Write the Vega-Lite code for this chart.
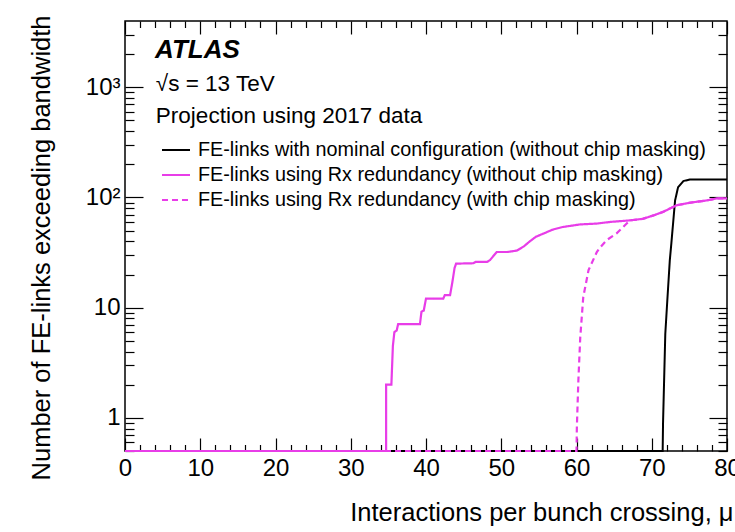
{
  "$schema": "https://vega.github.io/schema/vega-lite/v6.json",
  "width": 602,
  "height": 430,
  "autosize": "none",
  "padding": {"left": 125, "top": 21, "right": 8, "bottom": 81},
  "background": "white",
  "config": {
    "font": "Liberation Sans",
    "view": {"stroke": "black", "strokeWidth": 1.5},
    "axis": {"domain": false, "grid": false, "tickColor": "black", "tickWidth": 1.2, "labelColor": "black", "titleColor": "black", "titleFontWeight": "normal", "labelFlush": false, "labelOverlap": false}
  },
  "datasets": {
    "curves": [
      {"series": "FE-links with nominal configuration (without chip masking)", "i": 1, "mu": 0, "n": 0.5},
      {"series": "FE-links with nominal configuration (without chip masking)", "i": 2, "mu": 71.45, "n": 0.5},
      {"series": "FE-links with nominal configuration (without chip masking)", "i": 3, "mu": 71.5, "n": 0.9},
      {"series": "FE-links with nominal configuration (without chip masking)", "i": 4, "mu": 71.8, "n": 5.8},
      {"series": "FE-links with nominal configuration (without chip masking)", "i": 5, "mu": 72.07, "n": 11.7},
      {"series": "FE-links with nominal configuration (without chip masking)", "i": 6, "mu": 72.4, "n": 27},
      {"series": "FE-links with nominal configuration (without chip masking)", "i": 7, "mu": 72.6, "n": 38},
      {"series": "FE-links with nominal configuration (without chip masking)", "i": 8, "mu": 73.1, "n": 94},
      {"series": "FE-links with nominal configuration (without chip masking)", "i": 9, "mu": 73.5, "n": 124},
      {"series": "FE-links with nominal configuration (without chip masking)", "i": 10, "mu": 74.2, "n": 141},
      {"series": "FE-links with nominal configuration (without chip masking)", "i": 11, "mu": 75.1, "n": 146},
      {"series": "FE-links with nominal configuration (without chip masking)", "i": 12, "mu": 80, "n": 146},

      {"series": "FE-links using Rx redundancy (without chip masking)", "i": 1, "mu": 0, "n": 0.5},
      {"series": "FE-links using Rx redundancy (without chip masking)", "i": 2, "mu": 34.7, "n": 0.5},
      {"series": "FE-links using Rx redundancy (without chip masking)", "i": 3, "mu": 34.7, "n": 2.0},
      {"series": "FE-links using Rx redundancy (without chip masking)", "i": 4, "mu": 35.4, "n": 2.0},
      {"series": "FE-links using Rx redundancy (without chip masking)", "i": 5, "mu": 35.6, "n": 4.5},
      {"series": "FE-links using Rx redundancy (without chip masking)", "i": 6, "mu": 35.8, "n": 6.0},
      {"series": "FE-links using Rx redundancy (without chip masking)", "i": 7, "mu": 36.1, "n": 6.2},
      {"series": "FE-links using Rx redundancy (without chip masking)", "i": 8, "mu": 36.3, "n": 7.1},
      {"series": "FE-links using Rx redundancy (without chip masking)", "i": 9, "mu": 39.2, "n": 7.1},
      {"series": "FE-links using Rx redundancy (without chip masking)", "i": 10, "mu": 39.4, "n": 9.2},
      {"series": "FE-links using Rx redundancy (without chip masking)", "i": 11, "mu": 39.7, "n": 9.4},
      {"series": "FE-links using Rx redundancy (without chip masking)", "i": 12, "mu": 40.0, "n": 12.1},
      {"series": "FE-links using Rx redundancy (without chip masking)", "i": 13, "mu": 42.3, "n": 12.1},
      {"series": "FE-links using Rx redundancy (without chip masking)", "i": 14, "mu": 42.5, "n": 13},
      {"series": "FE-links using Rx redundancy (without chip masking)", "i": 15, "mu": 43.2, "n": 13},
      {"series": "FE-links using Rx redundancy (without chip masking)", "i": 16, "mu": 43.5, "n": 17},
      {"series": "FE-links using Rx redundancy (without chip masking)", "i": 17, "mu": 43.8, "n": 23},
      {"series": "FE-links using Rx redundancy (without chip masking)", "i": 18, "mu": 44.0, "n": 25.1},
      {"series": "FE-links using Rx redundancy (without chip masking)", "i": 19, "mu": 46.3, "n": 25.3},
      {"series": "FE-links using Rx redundancy (without chip masking)", "i": 20, "mu": 46.6, "n": 26},
      {"series": "FE-links using Rx redundancy (without chip masking)", "i": 21, "mu": 48.1, "n": 26},
      {"series": "FE-links using Rx redundancy (without chip masking)", "i": 22, "mu": 48.5, "n": 27},
      {"series": "FE-links using Rx redundancy (without chip masking)", "i": 23, "mu": 49.4, "n": 32},
      {"series": "FE-links using Rx redundancy (without chip masking)", "i": 24, "mu": 50.8, "n": 32},
      {"series": "FE-links using Rx redundancy (without chip masking)", "i": 25, "mu": 52.1, "n": 33},
      {"series": "FE-links using Rx redundancy (without chip masking)", "i": 26, "mu": 53.0, "n": 36},
      {"series": "FE-links using Rx redundancy (without chip masking)", "i": 27, "mu": 53.8, "n": 40},
      {"series": "FE-links using Rx redundancy (without chip masking)", "i": 28, "mu": 54.6, "n": 44},
      {"series": "FE-links using Rx redundancy (without chip masking)", "i": 29, "mu": 55.6, "n": 47},
      {"series": "FE-links using Rx redundancy (without chip masking)", "i": 30, "mu": 56.8, "n": 51},
      {"series": "FE-links using Rx redundancy (without chip masking)", "i": 31, "mu": 58.2, "n": 54},
      {"series": "FE-links using Rx redundancy (without chip masking)", "i": 32, "mu": 60.5, "n": 57},
      {"series": "FE-links using Rx redundancy (without chip masking)", "i": 33, "mu": 62.7, "n": 58},
      {"series": "FE-links using Rx redundancy (without chip masking)", "i": 34, "mu": 64.5, "n": 60},
      {"series": "FE-links using Rx redundancy (without chip masking)", "i": 35, "mu": 67.1, "n": 62},
      {"series": "FE-links using Rx redundancy (without chip masking)", "i": 36, "mu": 68.8, "n": 64},
      {"series": "FE-links using Rx redundancy (without chip masking)", "i": 37, "mu": 70.3, "n": 69},
      {"series": "FE-links using Rx redundancy (without chip masking)", "i": 38, "mu": 71.5, "n": 74},
      {"series": "FE-links using Rx redundancy (without chip masking)", "i": 39, "mu": 73.3, "n": 85},
      {"series": "FE-links using Rx redundancy (without chip masking)", "i": 40, "mu": 75.2, "n": 90},
      {"series": "FE-links using Rx redundancy (without chip masking)", "i": 41, "mu": 77.3, "n": 94},
      {"series": "FE-links using Rx redundancy (without chip masking)", "i": 42, "mu": 78.6, "n": 98},
      {"series": "FE-links using Rx redundancy (without chip masking)", "i": 43, "mu": 80, "n": 98},

      {"series": "FE-links using Rx redundancy (with chip masking)", "i": 1, "mu": 0, "n": 0.5},
      {"series": "FE-links using Rx redundancy (with chip masking)", "i": 2, "mu": 60.0, "n": 0.5},
      {"series": "FE-links using Rx redundancy (with chip masking)", "i": 3, "mu": 60.05, "n": 0.83},
      {"series": "FE-links using Rx redundancy (with chip masking)", "i": 4, "mu": 60.25, "n": 2.2},
      {"series": "FE-links using Rx redundancy (with chip masking)", "i": 5, "mu": 60.5, "n": 5.4},
      {"series": "FE-links using Rx redundancy (with chip masking)", "i": 6, "mu": 60.9, "n": 12.5},
      {"series": "FE-links using Rx redundancy (with chip masking)", "i": 7, "mu": 61.6, "n": 21.9},
      {"series": "FE-links using Rx redundancy (with chip masking)", "i": 8, "mu": 62.7, "n": 32},
      {"series": "FE-links using Rx redundancy (with chip masking)", "i": 9, "mu": 63.1, "n": 35},
      {"series": "FE-links using Rx redundancy (with chip masking)", "i": 10, "mu": 64.0, "n": 41},
      {"series": "FE-links using Rx redundancy (with chip masking)", "i": 11, "mu": 65.3, "n": 47},
      {"series": "FE-links using Rx redundancy (with chip masking)", "i": 12, "mu": 66.2, "n": 54},
      {"series": "FE-links using Rx redundancy (with chip masking)", "i": 13, "mu": 67.1, "n": 62},
      {"series": "FE-links using Rx redundancy (with chip masking)", "i": 14, "mu": 68.8, "n": 64},
      {"series": "FE-links using Rx redundancy (with chip masking)", "i": 15, "mu": 70.3, "n": 69},
      {"series": "FE-links using Rx redundancy (with chip masking)", "i": 16, "mu": 71.5, "n": 74},
      {"series": "FE-links using Rx redundancy (with chip masking)", "i": 17, "mu": 73.3, "n": 85},
      {"series": "FE-links using Rx redundancy (with chip masking)", "i": 18, "mu": 75.2, "n": 90},
      {"series": "FE-links using Rx redundancy (with chip masking)", "i": 19, "mu": 77.3, "n": 94},
      {"series": "FE-links using Rx redundancy (with chip masking)", "i": 20, "mu": 78.6, "n": 98},
      {"series": "FE-links using Rx redundancy (with chip masking)", "i": 21, "mu": 80, "n": 98}
    ],
    "notes": [
      {"kind": "atlas", "text": "ATLAS", "mu": 4.0, "n": 1832},
      {"kind": "plain", "text": "√s = 13 TeV", "mu": 4.1, "n": 920},
      {"kind": "plain", "text": "Projection using 2017 data", "mu": 4.1, "n": 470}
    ]
  },
  "resolve": {"axis": {"x": "independent", "y": "independent"}},
  "layer": [
    {
      "data": {"name": "curves"},
      "transform": [{"filter": "datum.series === 'FE-links with nominal configuration (without chip masking)'"}],
      "mark": {"type": "line", "strokeWidth": 2, "clip": false},
      "encoding": {
        "x": {"field": "mu", "type": "quantitative", "scale": {"domain": [0, 80], "nice": false, "zero": false},
          "axis": {"orient": "bottom", "values": [0, 10, 20, 30, 40, 50, 60, 70, 80], "tickSize": -13, "labelFontSize": 24, "labelPadding": 18,
            "title": "Interactions per bunch crossing, μ", "titleFontSize": 25.5, "titleAnchor": "end", "titleAlign": "right", "titleX": 608, "titleY": 69, "titleBaseline": "alphabetic"}},
        "y": {"field": "n", "type": "quantitative", "scale": {"type": "log", "domain": [0.5, 4000], "nice": false},
          "axis": {"orient": "left", "values": [1, 10, 100, 1000], "labelExpr": "datum.value == 1 ? '1' : datum.value == 10 ? '10' : datum.value == 100 ? '10²' : '10³'",
            "tickSize": -18, "labelFontSize": 24, "labelPadding": 23,
            "title": "Number of FE-links exceeding bandwidth", "titleFontSize": 25.5, "titleAngle": -90, "titleAlign": "right", "titleBaseline": "middle", "titleX": -84, "titleY": -6}},
        "order": {"field": "i", "type": "quantitative"},
        "color": {"field": "series", "type": "nominal",
          "scale": {"domain": ["FE-links with nominal configuration (without chip masking)", "FE-links using Rx redundancy (without chip masking)", "FE-links using Rx redundancy (with chip masking)"], "range": ["#000000", "#e83de8", "#e83de8"]},
          "legend": {"orient": "none", "legendX": 36, "legendY": 114, "title": null, "padding": 0, "symbolType": "stroke", "symbolSize": 784, "symbolStrokeWidth": 2, "labelFontSize": 19.8, "labelLimit": 700, "labelOffset": 7, "rowPadding": 0, "labelColor": "black"}},
        "strokeDash": {"field": "series", "type": "nominal",
          "scale": {"domain": ["FE-links with nominal configuration (without chip masking)", "FE-links using Rx redundancy (without chip masking)", "FE-links using Rx redundancy (with chip masking)"], "range": [[1, 0], [1, 0], [6, 4]]},
          "legend": {"orient": "none", "legendX": 36, "legendY": 114, "title": null, "padding": 0, "symbolType": "stroke", "symbolSize": 784, "symbolStrokeWidth": 2, "labelFontSize": 19.8, "labelLimit": 700, "labelOffset": 7, "rowPadding": 0, "labelColor": "black"}}
      }
    },
    {
      "data": {"name": "curves"},
      "transform": [{"filter": "datum.series === 'FE-links using Rx redundancy (with chip masking)'"}],
      "mark": {"type": "line", "strokeWidth": 2.2, "clip": false},
      "encoding": {
        "x": {"field": "mu", "type": "quantitative", "scale": {"domain": [0, 80], "nice": false, "zero": false},
          "axis": {"orient": "bottom", "values": [2, 4, 6, 8, 12, 14, 16, 18, 22, 24, 26, 28, 32, 34, 36, 38, 42, 44, 46, 48, 52, 54, 56, 58, 62, 64, 66, 68, 72, 74, 76, 78], "tickSize": -6.5, "labels": false, "title": null}},
        "y": {"field": "n", "type": "quantitative", "scale": {"type": "log", "domain": [0.5, 4000], "nice": false},
          "axis": {"orient": "left", "values": [0.5, 0.6, 0.7, 0.8, 0.9, 2, 3, 4, 5, 6, 7, 8, 9, 20, 30, 40, 50, 60, 70, 80, 90, 200, 300, 400, 500, 600, 700, 800, 900, 2000, 3000], "tickSize": -9, "labels": false, "title": null}},
        "order": {"field": "i", "type": "quantitative"},
        "color": {"field": "series", "type": "nominal"},
        "strokeDash": {"field": "series", "type": "nominal"}
      }
    },
    {
      "data": {"name": "curves"},
      "transform": [{"filter": "datum.series === 'FE-links using Rx redundancy (without chip masking)'"}],
      "mark": {"type": "line", "strokeWidth": 2.2, "clip": false},
      "encoding": {
        "x": {"field": "mu", "type": "quantitative", "scale": {"domain": [0, 80], "nice": false, "zero": false},
          "axis": {"orient": "top", "values": [0, 10, 20, 30, 40, 50, 60, 70, 80], "tickSize": -13, "labels": false, "title": null}},
        "y": {"field": "n", "type": "quantitative", "scale": {"type": "log", "domain": [0.5, 4000], "nice": false},
          "axis": {"orient": "right", "values": [1, 10, 100, 1000], "tickSize": -18, "labels": false, "title": null}},
        "order": {"field": "i", "type": "quantitative"},
        "color": {"field": "series", "type": "nominal"},
        "strokeDash": {"field": "series", "type": "nominal"}
      }
    },
    {
      "data": {"name": "notes"},
      "transform": [{"filter": "datum.kind === 'atlas'"}],
      "mark": {"type": "text", "align": "left", "baseline": "alphabetic", "fontSize": 26, "fontWeight": "bold", "fontStyle": "italic", "color": "black"},
      "encoding": {
        "x": {"field": "mu", "type": "quantitative", "scale": {"domain": [0, 80], "nice": false, "zero": false},
          "axis": {"orient": "top", "values": [2, 4, 6, 8, 12, 14, 16, 18, 22, 24, 26, 28, 32, 34, 36, 38, 42, 44, 46, 48, 52, 54, 56, 58, 62, 64, 66, 68, 72, 74, 76, 78], "tickSize": -6.5, "labels": false, "title": null}},
        "y": {"field": "n", "type": "quantitative", "scale": {"type": "log", "domain": [0.5, 4000], "nice": false},
          "axis": {"orient": "right", "values": [0.5, 0.6, 0.7, 0.8, 0.9, 2, 3, 4, 5, 6, 7, 8, 9, 20, 30, 40, 50, 60, 70, 80, 90, 200, 300, 400, 500, 600, 700, 800, 900, 2000, 3000], "tickSize": -9, "labels": false, "title": null}},
        "text": {"field": "text"}
      }
    },
    {
      "data": {"name": "notes"},
      "transform": [{"filter": "datum.kind === 'plain'"}],
      "mark": {"type": "text", "align": "left", "baseline": "alphabetic", "fontSize": 22.5, "color": "black"},
      "encoding": {
        "x": {"field": "mu", "type": "quantitative", "axis": null},
        "y": {"field": "n", "type": "quantitative", "axis": null},
        "text": {"field": "text"}
      }
    }
  ]
}
